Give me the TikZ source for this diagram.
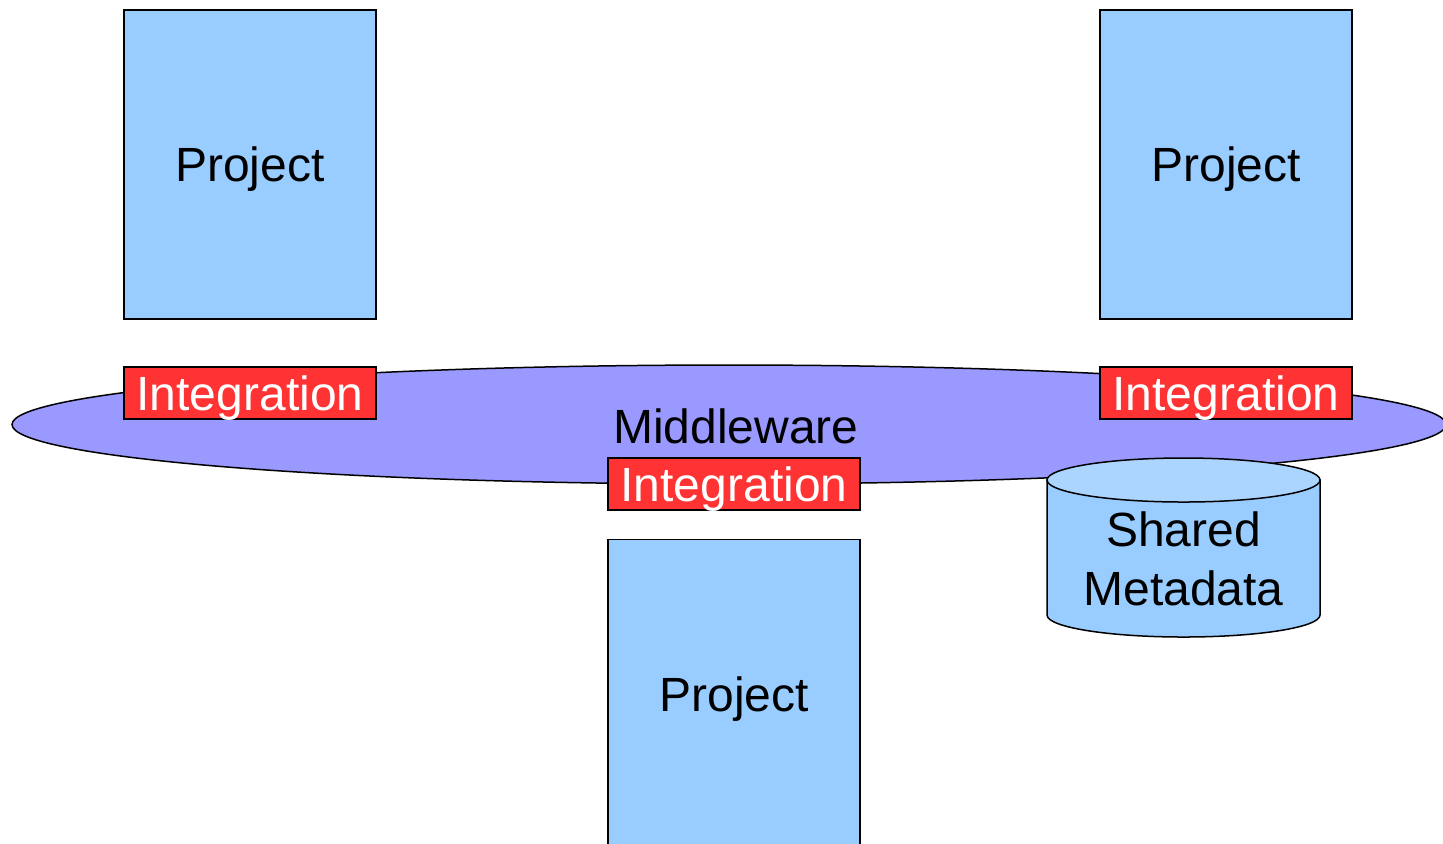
\documentclass[tikz,border=0pt]{standalone}
\usepackage{fontspec}
\setmainfont{Liberation Sans}
\usetikzlibrary{shapes.geometric}
\definecolor{projblue}{HTML}{99CCFF}
\definecolor{mwblue}{HTML}{9999FF}
\definecolor{intred}{HTML}{FF3333}
\definecolor{cyltop}{HTML}{ABD5FF}
\tikzset{
  bigfont/.style={font=\fontsize{24}{29.5}\selectfont},
  capcenter/.style={text height=17.2pt, text depth=0pt},
  txt/.style={bigfont, text=black, inner sep=0pt, align=center},
  projbox/.style={draw=black, line width=0.75pt, fill=projblue, minimum width=126pt, minimum height=154.5pt, inner sep=0pt, bigfont, capcenter},
  intbox/.style={draw=black, line width=0.75pt, fill=intred, minimum width=126pt, minimum height=26pt, inner sep=0pt, text=white, bigfont, capcenter},
  outline/.style={draw=black, line width=0.75pt}
}
\begin{document}
\begin{tikzpicture}[x=0.5pt, y=-0.5pt]
\useasboundingbox (0,0) rectangle (1443,843);
\clip (0,0) rectangle (1443,843);
% middleware ellipse
\node[ellipse, outline, fill=mwblue, minimum width=717pt, minimum height=59.5pt, inner sep=0pt] (mw) at (729,424.5) {};
\node[txt, capcenter] (mwlabel) at (736,426.7) {Middleware};
% projects
\node[projbox] (p1) at (250,164.5) {Project};
\node[projbox] (p2) at (1226,164.5) {Project};
\node[projbox] (p3) at (734,694) {Project};
% integration boxes
\node[intbox] (i1) at (250,393) {Integration};
\node[intbox] (i2) at (1226,393) {Integration};
\node[intbox] (i3) at (734,484) {Integration};
% shared metadata cylinder
\filldraw[outline, fill=projblue] (1047,480) -- (1047,615) arc[start angle=180, end angle=0, x radius=136.5, y radius=22] -- (1320,480) -- cycle;
\filldraw[outline, fill=cyltop] (1183.5,480) ellipse[x radius=136.5, y radius=22];
\node[txt, anchor=base] (meta) at (1183.5,605) {Shared\\Metadata};
\end{tikzpicture}
\end{document}
